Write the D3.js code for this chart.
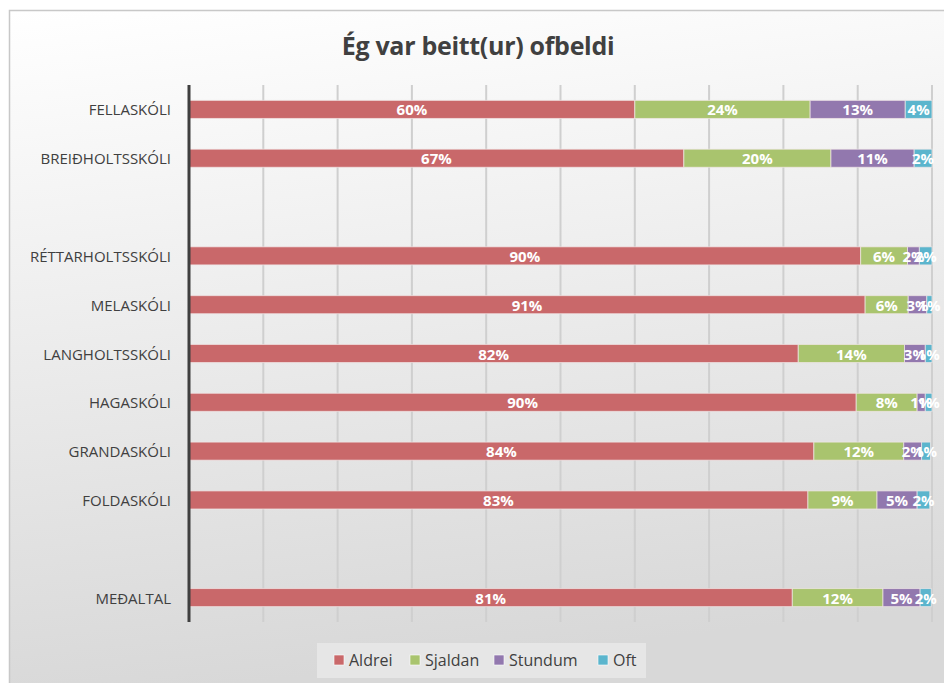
<!DOCTYPE html>
<html lang="is">
<head>
<meta charset="utf-8">
<title>Ég var beitt(ur) ofbeldi</title>
<script src="https://d3js.org/d3.v7.min.js"></script>
<style>
  body{margin:0;background:#fff;font-family:"Open Sans",sans-serif;}
  #chart{position:absolute;left:0;top:0;}
</style>
</head>
<body>
<div id="chart"></div>
<script>
// categories (top to bottom), the blanks are empty rows in the original
var skolar = ["FELLASKÓLI","BREIÐHOLTSSKÓLI","","RÉTTARHOLTSSKÓLI","MELASKÓLI","LANGHOLTSSKÓLI","HAGASKÓLI","GRANDASKÓLI","FOLDASKÓLI"," ","MEÐALTAL"]
var flokkar = ["Aldrei","Sjaldan","Stundum","Oft"]
// percentages
var aldrei  = [60.0, 66.6, null, 90.4, 91.0, 82.0, 89.8, 84.1, 83.3, null, 81.2]
var sjaldan = [23.6, 19.8, null, 6.3, 5.8, 14.3, 8.2, 12.1, 9.3, null, 12.2]
var stundum = [12.8, 11.2, null, 1.6, 2.5, 2.8, 1.1, 2.4, 5.4, null, 5.0]
var oft     = [3.6, 2.4, null, 1.7, 0.7, 0.9, 0.9, 1.2, 1.7, null, 1.5]
var litir = ["#c9686a","#a9c46e","#9278ae","#5bb5cd"]

var W = 944, H = 683
var svg = d3.select("#chart").append("svg").attr("width",W).attr("height",H)

// background gradient of the chart area
var defs = svg.append("defs")
var grad = defs.append("linearGradient").attr("id","bg").attr("x1",0).attr("y1",0).attr("x2",0.15).attr("y2",1)
grad.append("stop").attr("offset","0%").attr("stop-color","#ffffff")
grad.append("stop").attr("offset","100%").attr("stop-color","#d8d8d8")

svg.append("rect").attr("x",9.5).attr("y",10.5).attr("width",W).attr("height",H)
    .attr("fill","url(#bg)").attr("stroke","#c8c8c8").attr("stroke-width",1.5)

svg.append("text").attr("x",478).attr("y",55).attr("text-anchor","middle")
    .attr("font-size",25).attr("font-weight","bold").attr("fill","#404040")
    .attr("font-family","'Open Sans', sans-serif").attr("letter-spacing",-0.3)
    .text("Ég var beitt(ur) ofbeldi")

var plotL = 189, plotR = 932, plotT = 85, plotB = 622

var x = d3.scaleLinear().domain([0,100]).range([plotL,plotR])
var y = d3.scaleBand().domain(skolar).range([plotT,plotB]).paddingInner(0.63).paddingOuter(0.315)

// grid lines
svg.append("g").selectAll("line").data(d3.range(10,101,10)).enter().append("line")
    .attr("x1",function(d){return x(d)}).attr("x2",function(d){return x(d)})
    .attr("y1",plotT).attr("y2",plotB)
    .attr("stroke","#cfcfcf").attr("stroke-width",2)

// stacked rows
var rows = skolar.map(function(s,i){
    var vals = [aldrei[i],sjaldan[i],stundum[i],oft[i]]
    var acc = 0
    return {skoli:s, parts: vals[0]==null ? [] : vals.map(function(v,j){
        var p = {flokkur:j, x0:acc, x1:acc+v, v:v}; acc += v; return p })}
})

var g = svg.append("g").selectAll("g").data(rows).enter().append("g")
    .attr("transform",function(d){return "translate(0,"+y(d.skoli)+")"})

g.selectAll("rect").data(function(d){return d.parts}).enter().append("rect")
    .attr("x",function(d){return x(d.x0)})
    .attr("width",function(d){return x(d.x1)-x(d.x0)})
    .attr("height",y.bandwidth())
    .attr("fill",function(d){return litir[d.flokkur]})
    .attr("stroke","#f2e8e8").attr("stroke-opacity",0.7).attr("stroke-width",1)

g.selectAll("text").data(function(d){return d.parts}).enter().append("text")
    .attr("x",function(d){return (x(d.x0)+x(d.x1))/2})
    .attr("y",y.bandwidth()/2+6)
    .attr("text-anchor","middle")
    .attr("font-size",15).attr("font-weight","bold").attr("fill","#fff")
    .text(function(d){return Math.round(d.v)+"%"})

// y axis
var yAxis = d3.axisLeft(y).tickSize(0).tickPadding(18)
var ya = svg.append("g").attr("transform","translate("+plotL+",0)").call(yAxis)
ya.select(".domain").attr("stroke","#3f3f3f").attr("stroke-width",3)
    .attr("d","M0,"+plotT+"V"+plotB)
ya.selectAll("text").attr("font-size",15).attr("fill","#404040")
    .attr("font-family","'Open Sans', sans-serif").attr("dy","0.4em")

// legend
var leg = svg.append("g")
leg.append("rect").attr("x",317).attr("y",643).attr("width",329).attr("height",35).attr("fill","#e6e6e6")
var legX = [334,410,494,598]
var li = leg.selectAll("g").data(flokkar).enter().append("g")
    .attr("transform",function(d,i){return "translate("+legX[i]+",655)"})
li.append("rect").attr("width",10).attr("height",10).attr("fill",function(d,i){return litir[i]})
    .attr("stroke","#fff").attr("stroke-width",0.6)
li.append("text").attr("x",15).attr("y",10.5).attr("font-size",16).attr("fill","#404040")
    .text(function(d){return d})
</script>
</body>
</html>
